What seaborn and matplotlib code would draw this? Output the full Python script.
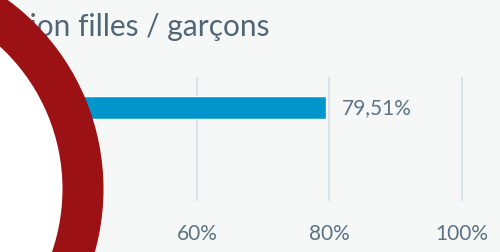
import matplotlib.pyplot as plt
import pandas as pd
import seaborn as sns
from matplotlib.patches import Circle, Wedge

categories = ["Filles"]
values = [79.51]
value_labels = ["79,51%"]
tick_values = [40, 60, 80, 100]
tick_labels = ["40%", "60%", "80%", "100%"]
title = "Répartition filles / garçons"

bg = "#f6f8f8"
text_col = "#5b7384"

sns.set_theme(style="white")
plt.rcParams["font.family"] = ["Lato", "DejaVu Sans"]

df = pd.DataFrame({"cat": categories, "val": values})

fig = plt.figure(figsize=(5, 2.53), dpi=100, facecolor=bg)
ax = fig.add_axes([0, 51 / 253, 1, 124 / 253])
ax.set_facecolor(bg)

sns.barplot(data=df, x="val", y="cat", orient="h", color="#0096cc",
            width=0.6, saturation=1, ax=ax, zorder=3)

ax.set_xlim(30.26, 105.74)
ax.set_ylim(2.44, -0.796)
ax.set_xticks(tick_values)
ax.set_xticklabels(tick_labels, color=text_col, fontsize=15)
ax.tick_params(axis="x", length=0, pad=16)
ax.set_yticks([])
ax.set_xlabel("")
ax.set_ylabel("")
ax.grid(axis="x", color="#dce3e7", linewidth=1.5, zorder=0)
for s in ax.spines.values():
    s.set_visible(False)

for i, (v, lab) in enumerate(zip(values, value_labels)):
    ax.text(v + 2.3, i, lab, va="center", ha="left", color=text_col, fontsize=15)

fig.text(269 / 500, 1 - 27 / 253, title, ha="right", va="center",
         color="#506675", fontsize=21.5)

# ring overlay in pixel coordinates
ov = fig.add_axes([0, 0, 1, 1], zorder=10)
ov.set_xlim(0, 500)
ov.set_ylim(253, 0)
ov.set_axis_off()
ov.patch.set_alpha(0)
ov.add_patch(Circle((-131, 190), 194, facecolor="white", edgecolor="none"))
ov.add_patch(Wedge((-131, 190), 234.5, 0, 360, width=41,
                   facecolor="#9c1114", edgecolor="none"))

fig.savefig("out.png", dpi=100, facecolor=bg)
